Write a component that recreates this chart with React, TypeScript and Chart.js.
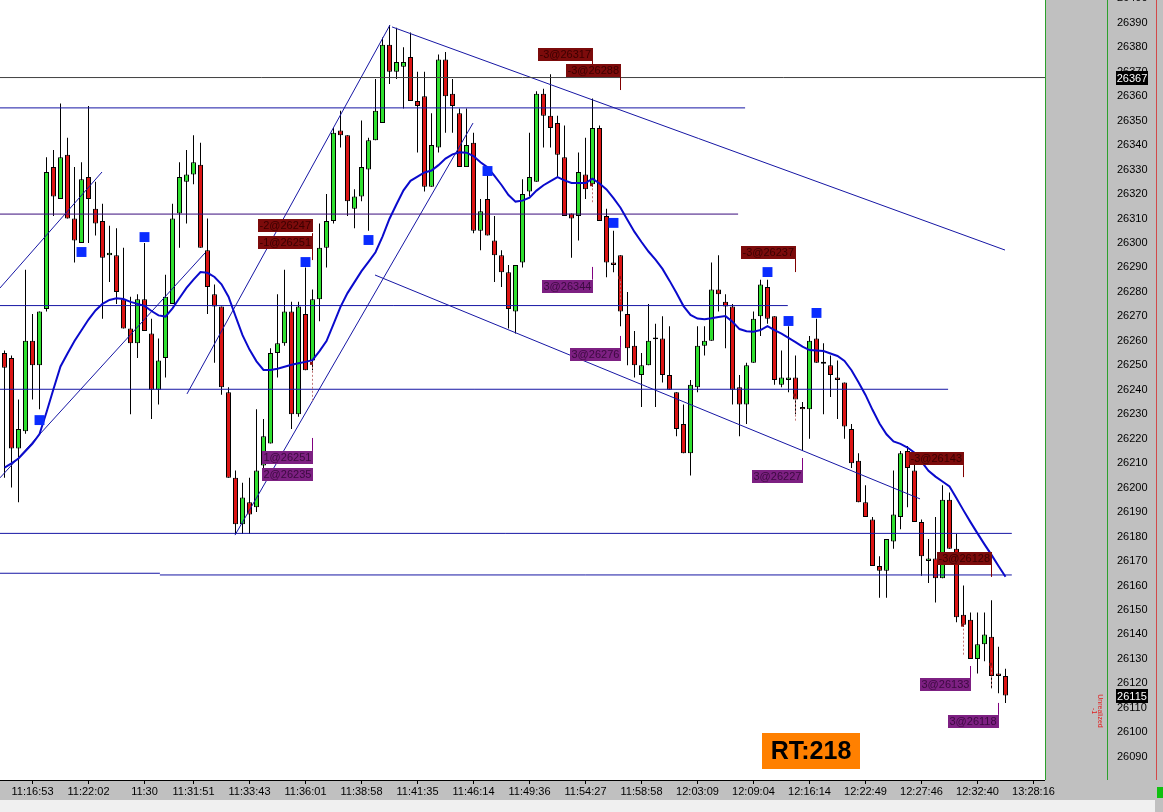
import React, { useEffect, useRef } from "react";
import { Chart, registerables } from "chart.js";
Chart.register(...registerables);

const FONT = '"Liberation Sans", Arial, sans-serif';

// ---------- candle data (one entry per bar) ----------
const opens = [26255,26253,26216,26223,26260,26250,26273,26331,26318,26336,
 26310,26300,26327,26314,26309,26295,26295,26277,26265,26259,
 26277,26263,26240,26253,26275,26312,26325,26328,26332,26297,
 26279,26274,26239,26204,26185,26194,26192,26209,26218,26255,
 26259,26272,26230,26271,26252,26277,26298,26309,26346,26344,
 26314,26319,26330,26342,26349,26381,26370,26372,26376,26358,
 26360,26323,26339,26375,26361,26353,26331,26341,26305,26318,
 26301,26295,26288,26272,26292,26321,26325,26361,26352,26349,
 26335,26312,26311,26328,26324,26347,26311,26292,26295,26271,
 26258,26246,26250,26261,26261,26246,26239,26226,26214,26241,
 26258,26260,26281,26276,26274,26241,26234,26251,26270,26282,
 26270,26242,26244,26245,26233,26232,26261,26251,26250,26245,
 26243,26224,26211,26194,26187,26168,26166,26178,26188,26215,
 26207,26186,26170,26171,26163,26195,26175,26148,26146,26130,
 26136,26139,26124,26123];
const highs = [26256,26254,26236,26289,26271,26272,26335,26338,26357,26343,
 26331,26333,26356,26325,26316,26307,26306,26298,26278,26279,
 26300,26269,26261,26287,26316,26333,26338,26344,26341,26310,
 26283,26274,26241,26207,26202,26204,26232,26228,26257,26279,
 26289,26276,26276,26290,26281,26308,26320,26347,26354,26344,
 26322,26350,26343,26367,26384,26389,26388,26380,26386,26370,
 26370,26353,26377,26378,26367,26355,26355,26345,26318,26329,
 26311,26297,26291,26291,26326,26345,26362,26363,26369,26352,
 26348,26312,26337,26343,26359,26348,26314,26305,26295,26280,
 26264,26255,26275,26267,26270,26266,26239,26234,26244,26266,
 26266,26292,26295,26279,26275,26246,26251,26272,26285,26285,
 26270,26256,26266,26254,26235,26262,26269,26259,26254,26252,
 26243,26226,26214,26201,26188,26172,26179,26207,26215,26217,
 26210,26187,26179,26188,26201,26198,26181,26160,26149,26149,
 26149,26154,26135,26126];
const lows = [26204,26200,26194,26222,26236,26232,26272,26311,26318,26310,
 26292,26300,26300,26303,26269,26284,26275,26265,26230,26253,
 26264,26228,26234,26245,26275,26298,26308,26324,26298,26271,
 26251,26238,26204,26181,26181,26181,26190,26207,26218,26245,
 26258,26224,26229,26248,26248,26268,26290,26308,26339,26311,
 26306,26317,26305,26342,26349,26365,26367,26355,26358,26337,
 26321,26323,26337,26345,26345,26331,26331,26304,26297,26303,
 26284,26282,26265,26263,26290,26319,26325,26339,26339,26327,
 26311,26294,26301,26318,26323,26309,26286,26288,26266,26250,
 26245,26233,26250,26233,26243,26240,26221,26214,26205,26239,
 26254,26260,26272,26257,26234,26221,26226,26251,26262,26267,
 26242,26241,26239,26230,26215,26220,26251,26230,26237,26228,
 26220,26208,26194,26188,26168,26155,26155,26175,26183,26192,
 26186,26164,26161,26153,26163,26175,26145,26143,26130,26124,
 26129,26118,26116,26112];
const closes = [26249,26216,26224,26260,26250,26272,26329,26319,26335,26310,
 26301,26326,26318,26308,26294,26296,26280,26265,26259,26277,
 26264,26240,26252,26278,26310,26327,26328,26333,26298,26282,
 26274,26241,26204,26185,26196,26189,26207,26221,26255,26259,
 26272,26230,26274,26248,26277,26298,26309,26345,26344,26317,
 26319,26331,26342,26354,26381,26370,26374,26374,26358,26356,
 26323,26340,26375,26360,26356,26331,26340,26305,26313,26303,
 26295,26288,26273,26291,26320,26327,26361,26352,26347,26336,
 26311,26310,26329,26322,26347,26309,26292,26291,26272,26257,
 26250,26250,26260,26261,26246,26240,26224,26214,26242,26258,
 26260,26281,26279,26274,26240,26234,26250,26269,26283,26269,
 26244,26245,26245,26236,26232,26260,26251,26251,26246,26244,
 26225,26210,26194,26188,26168,26166,26179,26189,26214,26208,
 26186,26172,26171,26163,26195,26175,26147,26144,26130,26136,
 26140,26123,26123,26115];
// moving average
const movingAvg = [26208.2,26209.9,26211.9,26214.9,26218.0,26221.9,26230.8,26240.3,26249.5,26254.8,
 26259.9,26264.3,26268.7,26272.4,26275.1,26276.7,26277.4,26277.1,26275.9,26275.1,
 26274.3,26272.2,26270.4,26269.9,26273.3,26277.5,26281.6,26285.0,26288.1,26287.8,
 26286.1,26283.1,26278.0,26270.1,26262.3,26256.4,26251.6,26248.1,26248.1,26248.6,
 26249.4,26250.2,26250.8,26251.4,26252.1,26255.8,26259.9,26266.8,26273.9,26279.5,
 26284.0,26288.5,26292.3,26296.2,26302.6,26309.9,26315.8,26321.5,26325.4,26327.1,
 26328.8,26329.6,26331.8,26334.5,26336.2,26337.1,26336.9,26335.5,26333.0,26330.9,
 26327.4,26323.7,26319.6,26316.9,26317.3,26318.5,26321.4,26323.6,26325.3,26326.9,
 26325.6,26324.5,26324.5,26324.5,26326.3,26324.3,26321.9,26318.3,26314.4,26309.4,
 26304.5,26300.4,26296.5,26293.2,26289.4,26284.6,26279.5,26274.2,26270.6,26269.1,
 26268.8,26269.2,26269.7,26270.1,26267.8,26264.8,26263.9,26263.7,26264.4,26266.0,
 26264.4,26262.9,26261.2,26259.5,26257.6,26256.2,26256.0,26255.8,26254.8,26253.8,
 26251.8,26248.0,26243.1,26237.9,26231.8,26226.2,26221.8,26218.9,26217.9,26216.4,
 26214.3,26210.6,26206.9,26204.5,26202.5,26200.5,26195.7,26190.7,26185.9,26181.3,
 26176.8,26172.5,26168.0,26163.6];

// ---------- axes ----------
const X_MIN = -0.642857;
const X_MAX = 148.642857;
const Y_MIN = 26080.5;
const Y_MAX = 26399.3;
const timeTickIndex = [4,12,20,27,35,43,51,59,67,75,83,91,99,107,115,123,131,139,147];
const timeTickLabels = ["11:16:53","11:22:02","11:30","11:31:51","11:33:43","11:36:01","11:38:58","11:41:35","11:46:14","11:49:36","11:54:27","11:58:58","12:03:09","12:09:04","12:16:14","12:22:49","12:27:46","12:32:40","13:28:16"];
const priceTicks = [26090,26100,26110,26120,26130,26140,26150,26160,26170,26180,26190,26200,26210,26220,26230,26240,26250,26260,26270,26280,26290,26300,26310,26320,26330,26340,26350,26360,26370,26380,26390,26400];
const refLinePrice = 26367.6;
const refLineText = "26367";
const lastPrice = 26115;

// ---------- signal squares ----------
const signalIndex = [5,11,20,43,52,69,87,109,112,116];
const signalPrice = [26227.6,26296.3,26302.4,26292.2,26301.2,26329.4,26308.2,26288.1,26268.1,26271.4];

// ---------- horizontal levels ----------
const levelPrice = [26367.6,26355.2,26311.8,26274.4,26240.2,26181.3,26165.0,26164.3];
const levelStart = [-0.643,-0.643,-0.643,-0.643,-0.643,-0.643,-0.643,22.2];
const levelEnd = [148.643,105.8,104.8,111.9,134.8,143.9,22.2,143.9];
const levelKind = ["ref","blue","violet","blue","blue","blue","blue","blue"];

// ---------- trend lines ----------
const trendX0 = [-0.643,-0.643,26.07,32.93,55.36,52.93];
const trendP0 = [26281.6,26204.0,26238.3,26180.6,26388.3,26286.9];
const trendX1 = [13.93,28.64,55.07,66.93,142.93,130.79];
const trendP1 = [26329.0,26295.9,26389.1,26349.0,26297.1,26195.4];

// ---------- trade tags ----------
const tagText = ["-2@26247","-1@26251","-3@26317","-3@26288","-3@26237","-3@26143","-3@26128","1@26251","2@26235","3@26344","3@26276","3@26227","3@26133","3@26118"];
const tagIndex = [44,44,84,88,113,137,141,44,44,84,88,114,138,142];
const tagPrice = [26307.1,26300.2,26377.0,26370.3,26296.1,26211.9,26171.0,26212.5,26205.4,26282.4,26254.6,26204.6,26119.5,26104.6];
const stemIndex = [44,84,88,113,137,141,44,84,88,114,138,142];
const stemFrom = [26304.0,26374.4,26367.8,26293.5,26209.2,26168.4,26220.3,26290.2,26262.0,26212.1,26127.1,26112.0];
const stemTo = [26293.0,26372.8,26362.5,26288.1,26204.3,26163.5,26215.0,26285.0,26257.1,26207.2,26122.2,26107.1];
const stemSell = [true,true,true,true,true,true,false,false,false,false,false,false];
const connIndex = [44,84,88,113,137,141];
const connFrom = [26251,26324,26286,26238,26144,26128];
const connTo = [26235,26316,26276,26227,26131,26118];
const rtText = "RT:218";

// ---------- styles ----------
const GREEN = "#2fe02f";
const RED = "#dc1414";
const LINE_BLUE = "#1616a4";
const LINE_VIOLET = "#3a0c7c";
const LINE_REF = "#404040";
const MA_BLUE = "#0a0acc";
const SIGNAL_BLUE = "#0a2cff";

const idx = opens.map((_, i) => i);

const bodyData = idx.map((i) => {
  const lo = Math.min(opens[i], closes[i]);
  const hi = Math.max(opens[i], closes[i]);
  return { x: i, y: hi - lo < 0.8 ? [lo - 0.4, hi + 0.4] : [lo, hi] };
});
const bodyColors = idx.map((i) =>
  closes[i] > opens[i] ? GREEN : closes[i] < opens[i] ? RED : "#000000"
);
const wickData = idx.map((i) => ({ x: i, y: [lows[i], highs[i]] }));

const levelDatasets = levelPrice.map((p, k) => ({
  type: "line" as const,
  data: [
    { x: levelStart[k], y: p },
    { x: levelEnd[k], y: p },
  ],
  borderColor:
    levelKind[k] === "ref" ? LINE_REF : levelKind[k] === "violet" ? LINE_VIOLET : LINE_BLUE,
  borderWidth: 1,
  pointRadius: 0,
  tension: 0,
  order: 1,
}));

const trendDatasets = trendX0.map((x0, k) => ({
  type: "line" as const,
  data: [
    { x: x0, y: trendP0[k] },
    { x: trendX1[k], y: trendP1[k] },
  ],
  borderColor: LINE_BLUE,
  borderWidth: 1,
  pointRadius: 0,
  tension: 0,
  order: 1,
}));

const decorPlugin = {
  id: "decor",
  beforeDraw(chart: any) {
    const { ctx, chartArea: a, width, height } = chart;
    ctx.save();
    ctx.fillStyle = "#f0f0f0";
    ctx.fillRect(0, 0, width, height);
    ctx.fillStyle = "#c0c0c0";
    ctx.fillRect(0, a.bottom, width, 20);
    ctx.fillRect(a.right, 0, width - a.right, a.bottom);
    ctx.fillRect(1155, a.bottom, width - 1155, height - a.bottom);
    ctx.fillStyle = "#ffffff";
    ctx.fillRect(a.left, a.top, a.right - a.left, a.bottom - a.top);
    ctx.restore();
  },
  afterDatasetsDraw(chart: any) {
    const { ctx, scales } = chart;
    const x = scales.x;
    const y = scales.y;
    ctx.save();
    // dashed trade connectors
    ctx.setLineDash([2, 2]);
    ctx.strokeStyle = "#c07878";
    ctx.lineWidth = 1;
    connIndex.forEach((ci, k) => {
      const px = Math.floor(x.getPixelForValue(ci)) + 0.5;
      ctx.beginPath();
      ctx.moveTo(px, y.getPixelForValue(connFrom[k]));
      ctx.lineTo(px, y.getPixelForValue(connTo[k]));
      ctx.stroke();
      ctx.fillStyle = "#8a1010";
      ctx.fillRect(px - 2.5, y.getPixelForValue(connFrom[k]) - 1, 3, 3);
    });
    ctx.setLineDash([]);
    // stems
    stemIndex.forEach((si, k) => {
      const px = Math.floor(x.getPixelForValue(si)) + 0.5;
      ctx.strokeStyle = stemSell[k] ? "#800000" : "#800080";
      ctx.beginPath();
      ctx.moveTo(px, y.getPixelForValue(stemFrom[k]));
      ctx.lineTo(px, y.getPixelForValue(stemTo[k]));
      ctx.stroke();
    });
    // tags
    ctx.font = `11px ${FONT}`;
    ctx.textBaseline = "middle";
    ctx.textAlign = "left";
    tagText.forEach((t, k) => {
      const sell = t.startsWith("-");
      const xr = Math.floor(x.getPixelForValue(tagIndex[k])) + 1;
      const w = Math.ceil(ctx.measureText(t).width) + 3;
      const yc = y.getPixelForValue(tagPrice[k]);
      const top = Math.round(yc - 6.5);
      ctx.fillStyle = sell ? "#7c0b0b" : "#7d2082";
      ctx.fillRect(xr - w, top, w, 13);
      ctx.fillStyle = sell ? "#3c0000" : "#3c0a40";
      ctx.fillText(t, xr - w + 1.5, top + 7);
    });
    // RT box
    ctx.fillStyle = "#ff8000";
    ctx.fillRect(762, 733, 98, 36);
    ctx.fillStyle = "#000000";
    ctx.font = `bold 25px ${FONT}`;
    ctx.textAlign = "center";
    ctx.fillText(rtText, 811, 752);
    ctx.restore();
  },
  afterDraw(chart: any) {
    const { ctx, chartArea: a, scales } = chart;
    const x = scales.x;
    const y = scales.y;
    ctx.save();
    // plot bottom border
    ctx.fillStyle = "#000000";
    ctx.fillRect(0, a.bottom, a.right, 1);
    // time labels
    ctx.font = `11px ${FONT}`;
    ctx.textAlign = "center";
    ctx.textBaseline = "middle";
    timeTickIndex.forEach((v, k) => {
      const px = x.getPixelForValue(v);
      ctx.fillRect(Math.floor(px), a.bottom, 1, 4);
      ctx.fillText(timeTickLabels[k], px, a.bottom + 12);
    });
    // panel separators
    ctx.fillStyle = "#2ca02c";
    ctx.fillRect(a.right, 0, 1, a.bottom);
    ctx.fillRect(1107, 0, 1, a.bottom);
    ctx.fillStyle = "#d24848";
    ctx.fillRect(1156, 0, 1, a.bottom);
    ctx.fillStyle = "#10c010";
    ctx.fillRect(1157, a.bottom + 7, 6, 11);
    // price labels
    ctx.fillStyle = "#000000";
    ctx.textAlign = "left";
    priceTicks.forEach((p) => {
      ctx.fillText(String(p), 1117, y.getPixelForValue(p));
    });
    const box = (p: number, txt: string) => {
      const yc = y.getPixelForValue(p);
      ctx.fillStyle = "#000000";
      ctx.fillRect(1116, Math.round(yc - 7), 32, 14);
      ctx.fillStyle = "#ffffff";
      ctx.textAlign = "center";
      ctx.fillText(txt, 1132, Math.round(yc - 7) + 7.5);
    };
    box(refLinePrice, refLineText);
    box(lastPrice, String(lastPrice));
    // small rotated position text
    ctx.save();
    ctx.translate(1100, 711);
    ctx.rotate(Math.PI / 2);
    ctx.fillStyle = "#e02020";
    ctx.font = `7px ${FONT}`;
    ctx.textAlign = "center";
    ctx.fillText("Unrealized", 0, 0);
    ctx.fillText("-1", 0, 6);
    ctx.restore();
    ctx.restore();
  },
};

export default function App() {
  const ref = useRef<HTMLCanvasElement>(null);
  useEffect(() => {
    if (!ref.current) return;
    Chart.defaults.font.family = FONT;
    const chart = new Chart(ref.current, {
      type: "bar",
      data: {
        datasets: [
          {
            type: "scatter",
            data: signalIndex.map((i, k) => ({ x: i, y: signalPrice[k] })),
            pointStyle: "rect",
            pointRadius: 7,
            backgroundColor: SIGNAL_BLUE,
            borderWidth: 0,
            order: -1,
          } as any,
          {
            type: "line",
            data: idx.map((i) => ({ x: i, y: movingAvg[i] })),
            borderColor: MA_BLUE,
            borderWidth: 2,
            pointRadius: 0,
            tension: 0,
            order: 0,
          } as any,
          ...(levelDatasets as any[]),
          ...(trendDatasets as any[]),
          {
            type: "bar",
            data: bodyData,
            backgroundColor: bodyColors,
            borderColor: "#000000",
            borderWidth: 1,
            borderSkipped: false,
            barThickness: 5,
            grouped: false,
            inflateAmount: 0,
            order: 2,
          } as any,
          {
            type: "bar",
            data: wickData,
            backgroundColor: "#000000",
            borderWidth: 0,
            barThickness: 1,
            grouped: false,
            inflateAmount: 0,
            order: 3,
          } as any,
        ],
      },
      options: {
        responsive: false,
        devicePixelRatio: 1,
        animation: false,
        events: [],
        layout: { autoPadding: false, padding: { left: 0, top: 0, right: 118, bottom: 32 } },
        plugins: { legend: { display: false }, tooltip: { enabled: false } },
        scales: {
          x: { type: "linear", min: X_MIN, max: X_MAX, display: false, offset: false },
          y: { type: "linear", min: Y_MIN, max: Y_MAX, display: false },
        },
      } as any,
      plugins: [decorPlugin],
    });
    return () => chart.destroy();
  }, []);
  return (
    <div style={{ position: "absolute", left: 0, top: 0, width: 1163, height: 812 }}>
      <canvas ref={ref} width={1163} height={812} style={{ display: "block", width: 1163, height: 812 }} />
    </div>
  );
}
